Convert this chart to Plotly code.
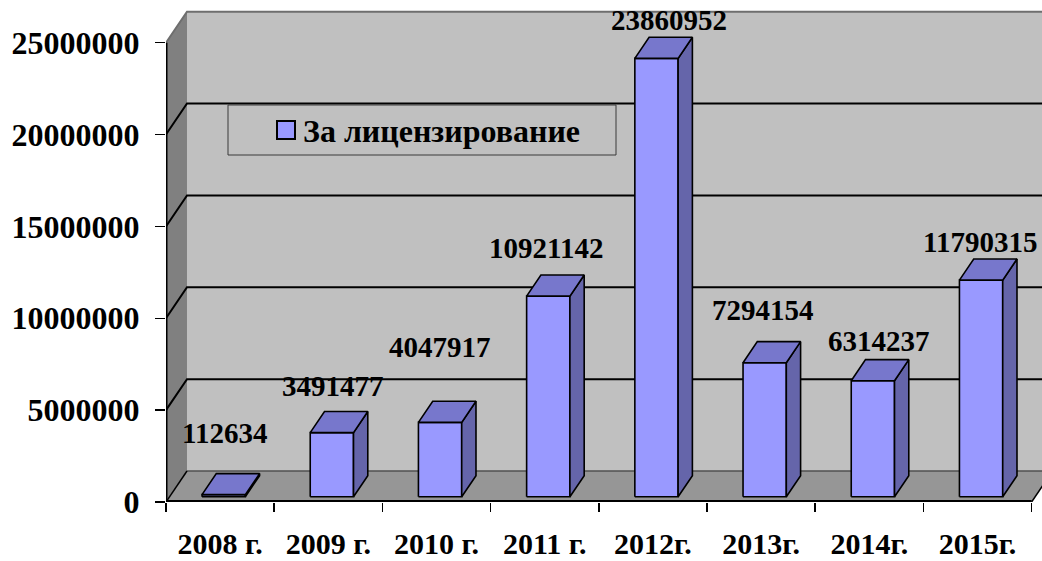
import plotly.graph_objects as go

# ---------------- data ----------------
categories = ["2008 г.", "2009 г.", "2010 г.", "2011 г.", "2012г.", "2013г.", "2014г.", "2015г."]
values = [112634, 3491477, 4047917, 10921142, 23860952, 7294154, 6314237, 11790315]
y_tick_values = [0, 5000000, 10000000, 15000000, 20000000, 25000000]
y_tick_labels = ["0", "5000000", "10000000", "15000000", "20000000", "25000000"]
series_name = "За лицензирование"

# ---------------- layout / 3-D geometry (style, not data) ----------------
W, H = 1042, 561
ML, MB, MR, MT = 166, 59, 0, 0
PW, PH = W - ML - MR, H - MB - MT
X_MAX = 8.096            # category units visible to the right edge
Y_MAX = 27.324e6         # value units visible up to the top edge
DX = 0.194               # depth offset, in category units
DY = 1.687e6             # depth offset, in value units
BX0, BX1 = 0.30, 0.70    # bar front-face extent inside a category
D0, D1 = 0.17, 0.85      # bar depth extent
FONT = "Liberation Serif, Times New Roman, serif"

WALL = "#C0C0C0"
SIDE = "#808080"
FLOOR = "#969696"
BAR_FRONT = "#9999FF"
BAR_TOP = "#7777CC"
BAR_SIDE = "#6565AA"

# per-label nudges (pixels) to mimic the original label placement
LABEL_DX = [4, 5, 3, 1, 16, 2, 10, 2]
LABEL_GAP = [30, 15, 43, 16, 6, 21, 8, 6]

n = len(categories)
top = y_tick_values[-1]


def P(x, y, d=0.0):
    return (x + d * DX, y + d * DY)


traces = []


def poly(pts, fill, lc="black", lw=0.0):
    xs = [p[0] for p in pts] + [pts[0][0]]
    ys = [p[1] for p in pts] + [pts[0][1]]
    traces.append(go.Scatter(x=xs, y=ys, mode="lines", fill="toself", fillcolor=fill,
                             line=dict(color=lc if lw > 0 else fill, width=lw),
                             hoverinfo="skip", showlegend=False))


def seg(pts, color, width):
    traces.append(go.Scatter(x=[p[0] for p in pts], y=[p[1] for p in pts], mode="lines",
                             line=dict(color=color, width=width),
                             hoverinfo="skip", showlegend=False))


# walls and floor
poly([P(0, 0, 1), P(n, 0, 1), P(n, top, 1), P(0, top, 1)], WALL)
poly([P(0, 0, 0), P(0, 0, 1), P(0, top, 1), P(0, top, 0)], SIDE)
poly([P(0, 0, 0), P(n, 0, 0), P(n, 0, 1), P(0, 0, 1)], FLOOR)

# gridlines (side wall + back wall)
for v in y_tick_values[1:-1]:
    seg([P(0, v, 0), P(0, v, 1), P(n, v, 1)], "black", 2)
# top edges of the walls
seg([P(0, top, 0), P(0, top, 1), P(n, top, 1)], "#6E6E6E", 2)
# floor edges
seg([P(0, 0, 1), P(n, 0, 1)], "#505050", 1.5)
seg([P(0, 0, 0), P(0, 0, 1)], "black", 1.5)
seg([P(n, 0, 0), P(n, 0, 1)], "black", 1.5)
seg([P(0, 0, 0), P(n, 0, 0)], "black", 4)      # front edge (half clipped)
seg([P(0, 0, 0), P(0, top, 0)], "black", 3)    # left axis edge (half clipped)

# 3-D bars
for i, v in enumerate(values):
    xl, xr = i + BX0, i + BX1
    poly([P(xl, 0, D0), P(xr, 0, D0), P(xr, v, D0), P(xl, v, D0)], BAR_FRONT, "black", 1.6)
    poly([P(xr, 0, D0), P(xr, 0, D1), P(xr, v, D1), P(xr, v, D0)], BAR_SIDE, "black", 1.6)
    poly([P(xl, v, D0), P(xr, v, D0), P(xr, v, D1), P(xl, v, D1)], BAR_TOP, "black", 1.6)

fig = go.Figure(traces)

# data labels
annotations = []
for i, v in enumerate(values):
    annotations.append(dict(x=i + 0.5, y=v + D1 * DY, xref="x", yref="y",
                            text=f"{v}", showarrow=False, xanchor="center", yanchor="bottom",
                            xshift=LABEL_DX[i], yshift=LABEL_GAP[i] - 7,
                            font=dict(family=FONT, size=29, color="black", weight="bold")))


# legend (drawn by hand to match the original box); pixel -> paper (plot-area) coords
def px(x):
    return (x - ML) / PW


def py(y):
    return (H - MB - y) / PH


annotations.append(dict(x=px(301), y=py(131), xref="paper", yref="paper", text=series_name,
                        showarrow=False, xanchor="left", yanchor="middle",
                        font=dict(family=FONT, size=32, color="black", weight="bold")))
shapes = [
    dict(type="rect", xref="paper", yref="paper", x0=px(228), x1=px(616), y0=py(155), y1=py(105),
         line=dict(color="#3A3A3A", width=1), fillcolor=WALL, layer="above"),
    dict(type="rect", xref="paper", yref="paper", x0=px(277), x1=px(295), y0=py(139), y1=py(121),
         line=dict(color="black", width=2), fillcolor=BAR_FRONT, layer="above"),
]

fig.update_layout(
    width=W, height=H,
    margin=dict(l=ML, r=MR, t=MT, b=MB, pad=0, autoexpand=False),
    paper_bgcolor="white", plot_bgcolor="white",
    showlegend=False,
    annotations=annotations,
    shapes=shapes,
    xaxis=dict(range=[0, X_MAX], showgrid=False, zeroline=False, showline=False,
               automargin=False,
               tickmode="array", tickvals=[i + 0.5 for i in range(n)], ticktext=categories,
               ticks="", ticklabelstandoff=21,
               tickfont=dict(family=FONT, size=30, color="black", weight="bold"),
               minor=dict(tickmode="array", tickvals=list(range(n + 1)), ticks="outside",
                          ticklen=9, tickwidth=1.5, tickcolor="black", showgrid=False),
               fixedrange=True),
    yaxis=dict(range=[0, Y_MAX], showgrid=False, zeroline=False, showline=False,
               automargin=False,
               tickmode="array", tickvals=y_tick_values, ticktext=y_tick_labels,
               ticks="outside", ticklen=10, tickwidth=1.5, tickcolor="black",
               ticklabelstandoff=9,
               tickfont=dict(family=FONT, size=32, color="black", weight="bold"),
               fixedrange=True),
)

# remove the browser's default 8px page margin so the figure sits at the window origin
fig.write_html("out.html",
               config={"displayModeBar": False, "staticPlot": True},
               post_script="document.body.style.margin='0px';document.body.style.overflow='hidden';")
